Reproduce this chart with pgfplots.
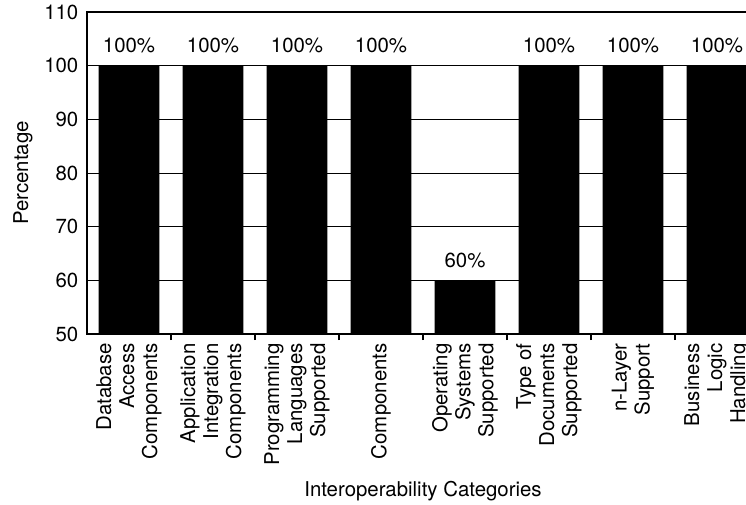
\documentclass[border=0pt]{standalone}
\usepackage{fontspec}
\setmainfont{TeX Gyre Heros}
\usepackage{pgfplots}
\pgfplotsset{compat=1.18}

% one pixel of the layout grid
\newlength{\px}
\setlength{\px}{0.75pt}
\newcommand{\chartfont}{\fontsize{15.3}{17.25}\selectfont}

\begin{document}
\begin{tikzpicture}
\begin{axis}[
  name=ax,
  scale only axis,
  width=672\px, height=322\px,
  xmin=-0.5, xmax=7.5,
  ymin=50, ymax=110,
  ytick={50,60,...,110},
  xtick={0,...,7},
  minor xtick={0.5,1.5,...,6.5},
  tick pos=left,
  tick align=inside,
  major tick length=0pt,
  minor tick length=6\px,
  every minor tick/.style={line width=1.2pt, black},
  axis line style={line width=2\px},
  ymajorgrids,
  grid style={black, line width=1\px},
  /pgf/number format/assume math mode=true,
  yticklabel style={font=\chartfont, xshift=-3pt},
  xticklabels={
    {Database\\Access\\Components},
    {Application\\Integration\\Components},
    {Programming\\Languages\\Supported},
    {Components},
    {Operating\\Systems\\Supported},
    {Type of\\Documents\\Supported},
    {n-Layer\\Support},
    {Business\\Logic\\Handling}},
  xticklabel style={yshift=-3.5pt, rotate=90, anchor=east, align=right,
    font=\chartfont},
  ylabel={Percentage},
  every axis y label/.style={at={(axis description cs:0,0.5)},
    xshift=-64\px, rotate=90, anchor=center, font=\chartfont},
  xlabel={Interoperability Categories},
  every axis x label/.style={at={(axis description cs:0.5,0)},
    yshift=-157\px, anchor=center, font=\chartfont},
  ybar, bar width=0.726, bar shift=0pt,
  nodes near coords={\pgfmathprintnumber{\pgfplotspointmeta}\%},
  every node near coord/.append style={anchor=south, yshift=6pt,
    font=\chartfont, black},
]
\addplot[fill=black, draw=none] coordinates {
  (0,100) (1,100) (2,100) (3,100) (4,60) (5,100) (6,100) (7,100)
};
\end{axis}
\pgfresetboundingbox
\path[use as bounding box]
  ([shift={(-87\px,-170\px)}]ax.south west) rectangle
  ([shift={(659\px,334\px)}]ax.south west);
\end{tikzpicture}
\end{document}
